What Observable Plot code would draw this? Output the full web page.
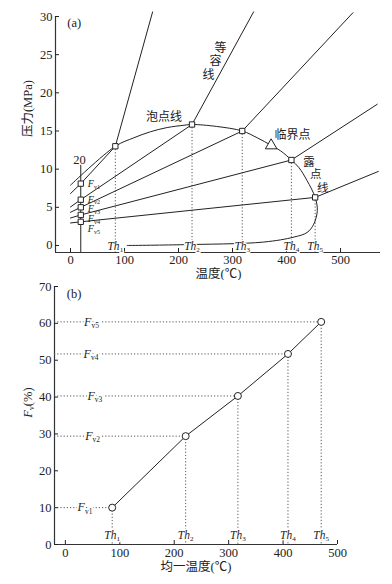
<!DOCTYPE html>
<html><head><meta charset="utf-8">
<script src="https://cdn.jsdelivr.net/npm/d3@7"></script>
<script src="https://cdn.jsdelivr.net/npm/@observablehq/plot@0.6"></script>
<style>
body{margin:0;background:#fff;}
#chart{width:392px;height:584px;overflow:hidden;}
#chart svg{display:block;}
</style></head><body><div id="chart"></div>
<script>
// ---------- data ----------
const thNames = ["Th_1", "Th_2", "Th_3", "Th_4", "Th_5"];
const fvNames = ["F_v1", "F_v2", "F_v3", "F_v4", "F_v5"];
const xTicks = [0, 100, 200, 300, 400, 500];
const yTicksA = [0, 5, 10, 15, 20, 25, 30];
const yTicksB = [0, 10, 20, 30, 40, 50, 60, 70];

// panel (a): homogenization points on the phase envelope
const thT = [83, 225, 318, 409, 453];
const thP = [13.0, 15.85, 15.0, 11.2, 6.3];
// room-temperature points (20 °C line)
const roomT = 19;
const fvP = [8.1, 6.0, 5.0, 4.0, 3.1];
// isochore lines: start at 0 °C, end beyond Th
const isoStartP = [6.8, 5.05, 4.35, 3.6, 2.95];
const isoEndT = [152, 339, 523, 568, 570];
const isoEndP = [30.6, 30.6, 30.5, 18.5, 9.7];
// phase envelope (bubble + dew curve)
const envT = [0, 83, 117, 148, 179, 210, 225, 270, 318, 346, 372, 389, 409, 423, 438, 453, 457, 450.5, 438, 413.6, 358, 204, 105];
const envP = [7.9, 13.0, 14.1, 14.9, 15.45, 15.75, 15.85, 15.6, 15.0, 14.1, 13.1, 12.4, 11.2, 10.2, 8.5, 6.3, 4.6, 2.8, 1.7, 1.1, 0.45, 0.1, 0.0];
const critT = 371.5, critP = 13.1;

// panel (b): Fv vs homogenization temperature
const homT = [86, 221, 317, 409, 470];
const fvPct = [10, 29.4, 40.3, 51.7, 60.4];
const fvLabelT = [36, 50, 54, 47, 48];

// ---------- helpers ----------
const FONT = "'Liberation Serif', 'Noto Sans CJK SC', serif";
const INK = "#222";
// "A_b" -> italic A + subscript b ; "A_b|c" -> italic A + subscript b + normal c
function subscripts(svg) {
  d3.select(svg).selectAll("text").each(function () {
    const t = this.textContent;
    if (!t || !t.includes("_")) return;
    const [a, rest] = t.split("_");
    const [b, c] = rest.split("|");
    const sel = d3.select(this);
    sel.text(null);
    sel.append("tspan").attr("font-style", "italic").text(a);
    sel.append("tspan").attr("font-size", "0.62em").attr("dy", "0.28em").text(b);
    if (c) sel.append("tspan").attr("dy", "-0.17em").text(c);
  });
}

// ---------- panel (a) ----------
const xMinA = -27.8, xMaxA = 574, yMinA = -0.92;
const envelope = envT.map((t, i) => ({T: t, P: envP[i]}));
const iso = [];
thT.forEach((t, i) => {
  iso.push({id: i, T: 0, P: isoStartP[i]});
  iso.push({id: i, T: roomT, P: fvP[i]});
  iso.push({id: i, T: t, P: thP[i]});
  iso.push({id: i, T: isoEndT[i], P: isoEndP[i]});
});
const thPts = thT.map((t, i) => ({T: t, P: thP[i], name: thNames[i]}));
const fvPts = fvP.map((p, i) => ({T: roomT, P: p, name: fvNames[i]}));
const fvLabY = [8.1, 6.05, 4.75, 3.5, 2.2];

const chartA = Plot.plot({
  width: 392, height: 280,
  marginLeft: 55, marginRight: 12, marginTop: 16, marginBottom: 28,
  style: {fontFamily: FONT, fontSize: "12px", color: INK, background: "#fff"},
  x: {domain: [xMinA, xMaxA], label: null},
  y: {domain: [yMinA, 30], label: null},
  marks: [
    Plot.ruleX([xMinA], {y1: yMinA, y2: 30, stroke: "#333", strokeWidth: 1.2}),
    Plot.ruleY([yMinA], {x1: xMinA, x2: xMaxA, stroke: "#333", strokeWidth: 1.2}),
    Plot.axisX({ticks: xTicks, tickSize: -4, tickPadding: 7, anchor: "bottom", tickFormat: d => d, fontSize: 12.5}),
    Plot.axisY({ticks: yTicksA, tickSize: -4, tickPadding: 7, anchor: "left", tickFormat: d => d, fontSize: 12.5}),
    Plot.ruleX(thPts, {x: "T", y1: "P", y2: yMinA, stroke: "#555", strokeDasharray: "1.2,2"}),
    Plot.ruleX([roomT], {y1: yMinA, y2: 10.5, stroke: INK, strokeWidth: 1}),
    Plot.line(iso, {x: "T", y: "P", z: "id", stroke: INK, strokeWidth: 1}),
    Plot.line(envelope, {x: "T", y: "P", stroke: INK, strokeWidth: 1, curve: "catmull-rom"}),
    Plot.dot([{T: critT, P: critP}], {x: "T", y: "P", symbol: "triangle", r: 4.3, fill: "#fff", stroke: INK, strokeWidth: 1}),
    Plot.dot(thPts, {x: "T", y: "P", symbol: "square", r: 3, fill: "#fff", stroke: INK, strokeWidth: 1}),
    Plot.dot(fvPts, {x: "T", y: "P", symbol: "square", r: 3, fill: "#fff", stroke: INK, strokeWidth: 1}),
    Plot.text(thPts, {x: "T", y: -0.15, text: "name", fontSize: 11.5, fill: INK, stroke: "#fff", strokeWidth: 2.5, paintOrder: "stroke"}),
    Plot.text(fvPts, {x: 32, y: (d, i) => fvLabY[i], text: "name", textAnchor: "start", fontSize: 10, fill: INK}),
    Plot.text(["20"], {x: 16.7, y: 11.2, fontSize: 12.5, fill: INK}),
    Plot.text(["(a)"], {x: -6, y: 29.2, textAnchor: "start", fontSize: 12.5, fill: INK}),
    Plot.text(["泡点线"], {x: 173, y: 16.8, fontSize: 12, fill: INK}),
    Plot.text(["临界点"], {x: 411, y: 14.4, fontSize: 12, fill: INK}),
    Plot.text(["等", "容", "线"], {x: [277.8, 268.5, 255.6], y: [25.9, 24.1, 22.3], fontSize: 12, fill: INK}),
    Plot.text(["露", "点", "线"], {x: [441.5, 454, 467], y: [10.95, 9.3, 7.55], fontSize: 11.5, fill: INK}),
    Plot.text(["温度(℃)"], {x: 274, frameAnchor: "bottom", dy: 25, fontSize: 12.5, fill: INK}),
    Plot.text(["压力(MPa)"], {y: 14.2, frameAnchor: "left", dx: -28, rotate: -90, fontSize: 12.5, fill: INK})
  ]
});
subscripts(chartA);

// ---------- panel (b) ----------
const xMinB = -20, xMaxB = 500;
const bPts = homT.map((t, i) => ({T: t, F: fvPct[i], th: thNames[i], fv: fvNames[i], lx: fvLabelT[i]}));
const chartB = Plot.plot({
  width: 392, height: 304,
  marginLeft: 54, marginRight: 55, marginTop: 6, marginBottom: 40,
  style: {fontFamily: FONT, fontSize: "12px", color: INK, background: "#fff"},
  x: {domain: [xMinB, xMaxB], label: null},
  y: {domain: [0, 70], label: null},
  marks: [
    Plot.ruleX([xMinB], {y1: 0, y2: 70, stroke: "#333", strokeWidth: 1.2}),
    Plot.ruleY([0], {x1: xMinB, x2: xMaxB, stroke: "#333", strokeWidth: 1.2}),
    Plot.axisX({ticks: xTicks, tickSize: -4, tickPadding: 8, anchor: "bottom", tickFormat: d => d, fontSize: 12.5}),
    Plot.axisY({ticks: yTicksB, tickSize: -4, tickPadding: 7, anchor: "left", tickFormat: d => d, fontSize: 12.5}),
    Plot.ruleY(bPts, {y: "F", x1: xMinB, x2: "T", stroke: "#555", strokeDasharray: "1.2,2"}),
    Plot.ruleX(bPts, {x: "T", y1: "F", y2: 0, stroke: "#555", strokeDasharray: "1.2,2"}),
    Plot.line(bPts, {x: "T", y: "F", stroke: INK, strokeWidth: 1}),
    Plot.dot(bPts, {x: "T", y: "F", r: 3.5, fill: "#fff", stroke: INK, strokeWidth: 1}),
    Plot.text(bPts, {x: "lx", y: "F", text: "fv", fontSize: 12, fill: INK, stroke: "#fff", strokeWidth: 4, paintOrder: "stroke"}),
    Plot.text(bPts, {x: "T", y: 2.6, text: "th", fontSize: 11.5, fill: INK, stroke: "#fff", strokeWidth: 2.5, paintOrder: "stroke"}),
    Plot.text(["(b)"], {x: 2.6, y: 68, textAnchor: "start", fontSize: 12.5, fill: INK}),
    Plot.text(["均一温度(℃)"], {x: 240, frameAnchor: "bottom", dy: 26, fontSize: 12.5, fill: INK}),
    Plot.text(["F_v|(%)"], {y: 34.4, frameAnchor: "left", dx: -27, rotate: -90, fontSize: 12.5, fill: INK})
  ]
});
subscripts(chartB);

document.getElementById("chart").append(chartA, chartB);
</script></body></html>
